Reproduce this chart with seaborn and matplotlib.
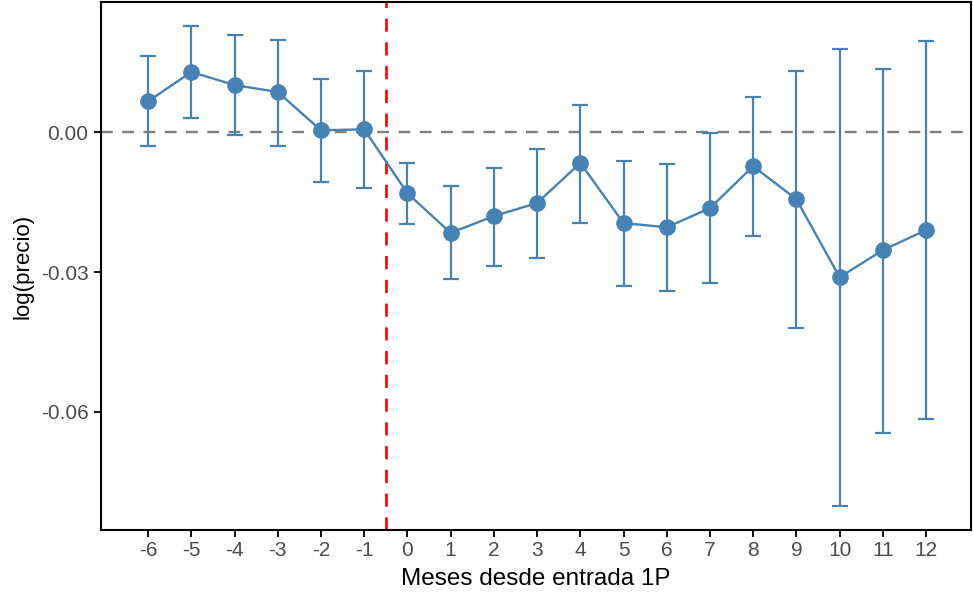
import numpy as np
import pandas as pd
import matplotlib
matplotlib.use("Agg")
import matplotlib.pyplot as plt
import seaborn as sns

meses = [-6, -5, -4, -3, -2, -1, 0, 1, 2, 3, 4, 5, 6, 7, 8, 9, 10, 11, 12]
coef = [0.0066, 0.0129, 0.0101, 0.0086, 0.0004, 0.0006, -0.0131, -0.0216, -0.0180,
        -0.0152, -0.0066, -0.0195, -0.0204, -0.0163, -0.0073, -0.0144, -0.0311,
        -0.0253, -0.0210]
ci_hi = [0.0163, 0.0227, 0.0208, 0.0197, 0.0114, 0.0131, -0.0066, -0.0116, -0.0077,
         -0.0036, 0.0058, -0.0062, -0.0069, -0.0002, 0.0075, 0.0131, 0.0178,
         0.0135, 0.0195]
ci_lo = [-0.0030, 0.0030, -0.0006, -0.0030, -0.0107, -0.0120, -0.0197, -0.0315,
         -0.0287, -0.0270, -0.0195, -0.0330, -0.0341, -0.0324, -0.0223, -0.0420,
         -0.0801, -0.0645, -0.0615]
yticks = [0.00, -0.03, -0.06]
ytick_labels = ["0.00", "-0.03", "-0.06"]

df = pd.DataFrame({"mes": meses, "coef": coef, "hi": ci_hi, "lo": ci_lo})

sns.set_style("white")
plt.rcParams["font.family"] = ["Liberation Sans", "DejaVu Sans"]

color = "#4682B4"
fig = plt.figure(figsize=(9.73, 5.96), dpi=100)
ax = fig.add_axes([101 / 973, 1 - 530 / 596, 870 / 973, 528 / 596])

ax.axhline(0, color="#7f7f7f", lw=1.7, ls=(0, (5, 4)), zorder=1)
ax.axvline(-0.5, color="#ff0000", lw=1.9, ls=(0, (5, 4)), zorder=1)

ax.errorbar(df["mes"], df["coef"],
            yerr=[df["coef"] - df["lo"], df["hi"] - df["coef"]],
            fmt="none", ecolor=color, elinewidth=1.6, capsize=6, capthick=1.6, zorder=2)
sns.lineplot(data=df, x="mes", y="coef", color=color, lw=1.7, marker="o",
             markersize=12, markeredgewidth=0, ax=ax, zorder=3)

ax.set_xlim(-7.09, 13.04)
ax.set_ylim(-0.0853, 0.0279)
ax.set_xticks(meses)
ax.set_xticklabels([str(m) for m in meses])
ax.set_yticks(yticks)
ax.set_yticklabels(ytick_labels)
ax.tick_params(axis="both", which="both", length=5, width=1.3, color="black",
               labelsize=15, labelcolor="#4d4d4d", direction="out", pad=4,
               bottom=True, left=True)
ax.tick_params(axis="x", pad=3)
ax.set_xlabel("Meses desde entrada 1P", fontsize=17.5, color="black", labelpad=6)
ax.set_ylabel("log(precio)", fontsize=16, color="black", labelpad=5)
for s in ax.spines.values():
    s.set_visible(True)
    s.set_color("black")
    s.set_linewidth(1.5)
ax.grid(False)

fig.savefig("out.png", dpi=100)
